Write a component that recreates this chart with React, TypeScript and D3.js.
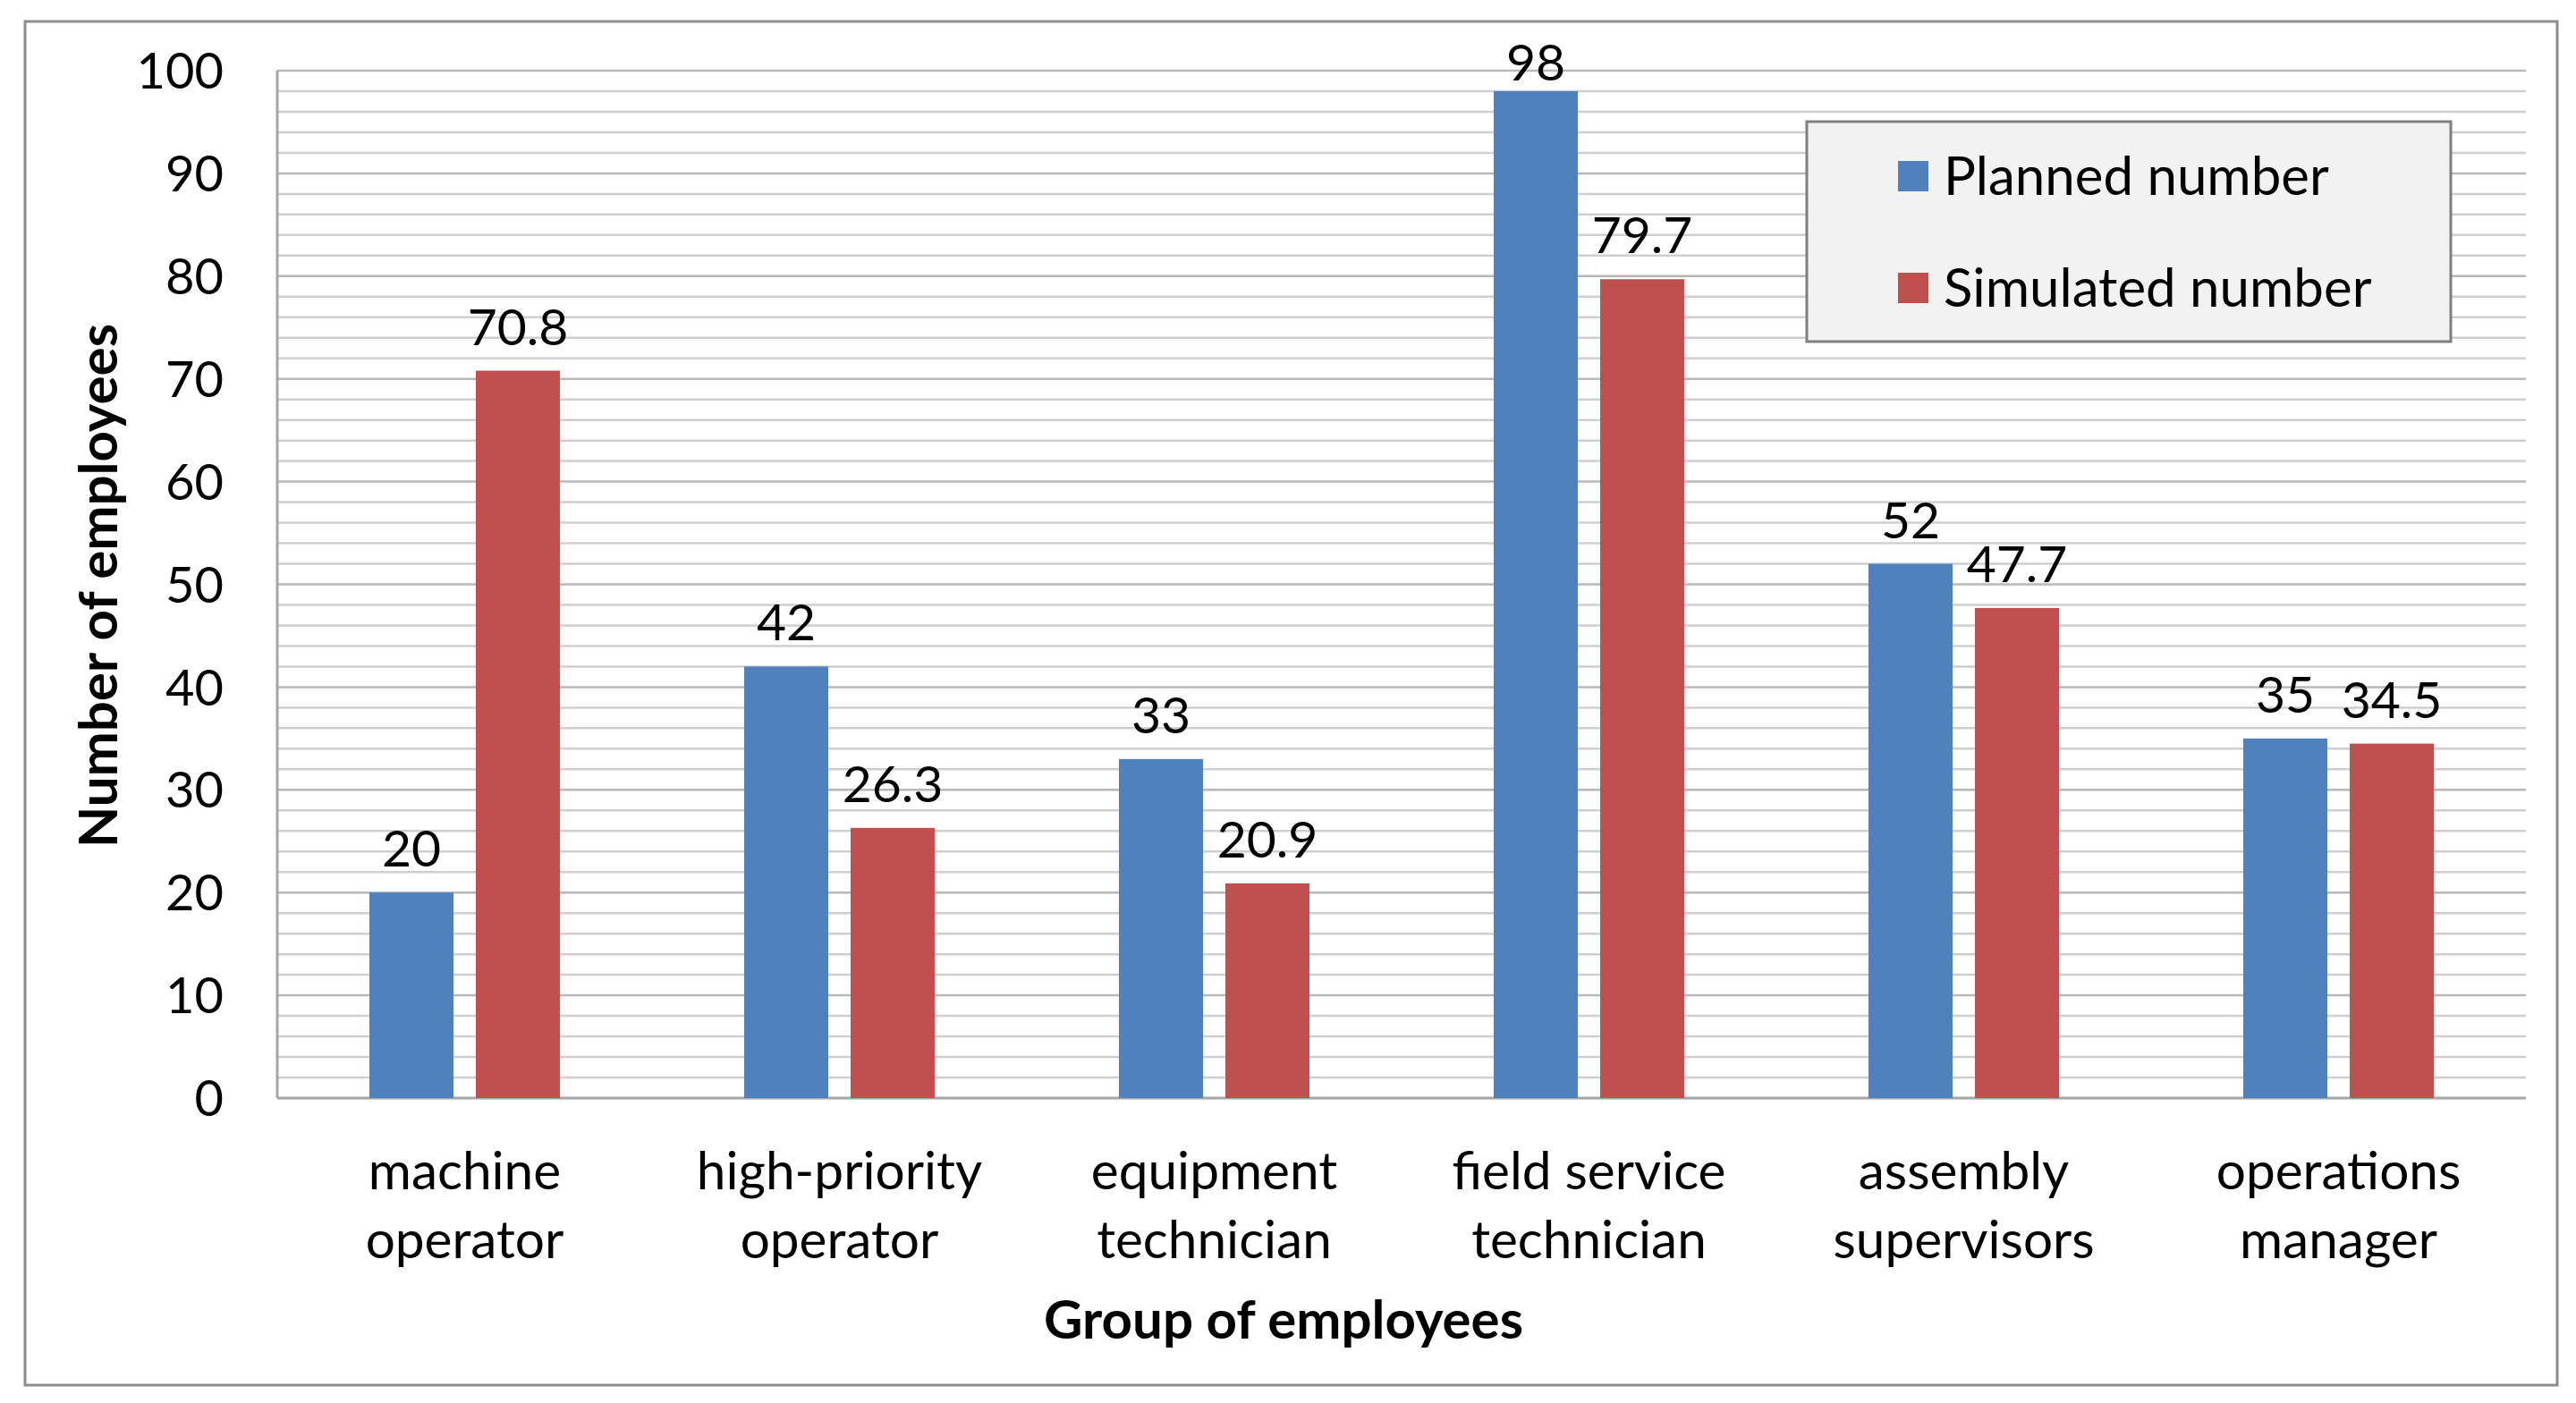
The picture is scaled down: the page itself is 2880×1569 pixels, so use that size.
import React, { useEffect, useRef } from "react";
import * as d3 from "d3";

const categories = [
    "machine operator",
    "high-priority operator",
    "equipment technician",
    "field service technician",
    "assembly supervisors",
    "operations manager",
];
const categoryLines = [
    ["machine", "operator"],
    ["high-priority", "operator"],
    ["equipment", "technician"],
    ["field service", "technician"],
    ["assembly", "supervisors"],
    ["operations", "manager"],
];
const seriesNames = ["Planned number", "Simulated number"];
const planned = [20, 42, 33, 98, 52, 35];
const simulated = [70.8, 26.3, 20.9, 79.7, 47.7, 34.5];
const yTicks = [0, 10, 20, 30, 40, 50, 60, 70, 80, 90, 100];

const colors = ["#4f81bd", "#c0504d"];
const FONT = "Lato, 'Open Sans', sans-serif";

const App: React.FC = () => {
    const ref = useRef<SVGSVGElement | null>(null);

    useEffect(() => {
        const svg = d3.select(ref.current);
        svg.selectAll("*").remove();

        const W = 2880;
        const H = 1569;
        const plot = { left: 310, right: 2824, top: 79, bottom: 1228 };

        svg.append("rect")
            .attr("width", W)
            .attr("height", H)
            .attr("fill", "#fff");

        // outer chart border
        svg.append("rect")
            .attr("x", 28)
            .attr("y", 24)
            .attr("width", 2831)
            .attr("height", 1525)
            .attr("fill", "#fff")
            .attr("stroke", "#8c8c8c")
            .attr("stroke-width", 3);

        const x0 = d3
            .scaleBand()
            .domain(categories)
            .range([plot.left, plot.right])
            .paddingInner(0.4917)
            .paddingOuter(0.2458);

        const x1 = d3
            .scaleBand()
            .domain(seriesNames)
            .range([0, x0.bandwidth()])
            .paddingInner(0.21);

        const y = d3
            .scaleLinear()
            .domain([0, 100])
            .range([plot.bottom, plot.top]);

        // gridlines every 2 units
        svg.append("g")
            .selectAll("line")
            .data(d3.range(2, 101, 2))
            .join("line")
            .attr("x1", plot.left)
            .attr("x2", plot.right)
            .attr("y1", (d) => y(d))
            .attr("y2", (d) => y(d))
            .attr("stroke", (d) => (d % 10 === 0 ? "#b8b8b8" : "#cfcfcf"))
            .attr("stroke-width", 2.5);

        // axes lines
        svg.append("line")
            .attr("x1", plot.left)
            .attr("x2", plot.left)
            .attr("y1", plot.top)
            .attr("y2", plot.bottom)
            .attr("stroke", "#a6a6a6")
            .attr("stroke-width", 3);
        svg.append("line")
            .attr("x1", plot.left)
            .attr("x2", plot.right)
            .attr("y1", plot.bottom)
            .attr("y2", plot.bottom)
            .attr("stroke", "#a6a6a6")
            .attr("stroke-width", 3);

        // y tick labels
        svg.append("g")
            .selectAll("text")
            .data(yTicks)
            .join("text")
            .attr("x", 250)
            .attr("y", (d) => y(d))
            .attr("dy", "0.36em")
            .attr("text-anchor", "end")
            .attr("font-family", FONT)
            .attr("font-size", 56)
            .attr("fill", "#000")
            .text((d) => d);

        const rows = categories.map((c, i) => ({
            category: c,
            values: [planned[i], simulated[i]],
        }));

        const groups = svg
            .append("g")
            .selectAll("g")
            .data(rows)
            .join("g")
            .attr("transform", (d) => `translate(${x0(d.category)},0)`);

        groups
            .selectAll("rect")
            .data((d) => d.values.map((v, k) => ({ key: seriesNames[k], v, k })))
            .join("rect")
            .attr("x", (d) => x1(d.key)!)
            .attr("y", (d) => y(d.v))
            .attr("width", x1.bandwidth())
            .attr("height", (d) => y(0) - y(d.v))
            .attr("fill", (d) => colors[d.k]);

        groups
            .selectAll("text")
            .data((d) => d.values.map((v, k) => ({ key: seriesNames[k], v, k })))
            .join("text")
            .attr("x", (d) => x1(d.key)! + x1.bandwidth() / 2)
            .attr("y", (d) => Math.max(y(d.v) - 29, 90))
            .attr("text-anchor", "middle")
            .attr("font-family", FONT)
            .attr("font-size", 57)
            .attr("fill", "#000")
            .text((d) => d.v);

        // category labels
        const catLabels = svg
            .append("g")
            .selectAll("text")
            .data(categories)
            .join("text")
            .attr("x", (d) => x0(d)! + x0.bandwidth() / 2)
            .attr("y", 1330)
            .attr("text-anchor", "middle")
            .attr("font-family", FONT)
            .attr("font-size", 58.5)
            .attr("fill", "#000");
        catLabels
            .selectAll("tspan")
            .data((d, i) => categoryLines[i])
            .join("tspan")
            .attr("x", function () {
                return (this.parentNode as SVGTextElement).getAttribute("x");
            })
            .attr("dy", (d, i) => (i === 0 ? 0 : 77))
            .text((d) => d);

        // axis titles
        svg.append("text")
            .attr("x", 1435)
            .attr("y", 1497)
            .attr("text-anchor", "middle")
            .attr("font-family", FONT)
            .attr("font-weight", "bold")
            .attr("font-size", 60)
            .text("Group of employees");

        svg.append("text")
            .attr("transform", "translate(131,655) rotate(-90)")
            .attr("text-anchor", "middle")
            .attr("font-family", FONT)
            .attr("font-weight", "bold")
            .attr("font-size", 60)
            .text("Number of employees");

        // legend
        const legend = svg.append("g");
        legend
            .append("rect")
            .attr("x", 2020)
            .attr("y", 136)
            .attr("width", 720)
            .attr("height", 246)
            .attr("fill", "#f2f2f2")
            .attr("stroke", "#7f7f7f")
            .attr("stroke-width", 3);
        const items = legend
            .selectAll("g")
            .data(seriesNames)
            .join("g")
            .attr("transform", (d, i) => `translate(2122,${180 + i * 125})`);
        items
            .append("rect")
            .attr("width", 34)
            .attr("height", 34)
            .attr("fill", (d, i) => colors[i]);
        items
            .append("text")
            .attr("x", 51)
            .attr("y", 38)
            .attr("font-family", FONT)
            .attr("font-size", 60)
            .attr("fill", "#000")
            .text((d) => d);
    }, []);

    return (
        <svg
            ref={ref}
            width={2880}
            height={1569}
            style={{ position: "absolute", left: 0, top: 0, display: "block" }}
        />
    );
};

export default App;
